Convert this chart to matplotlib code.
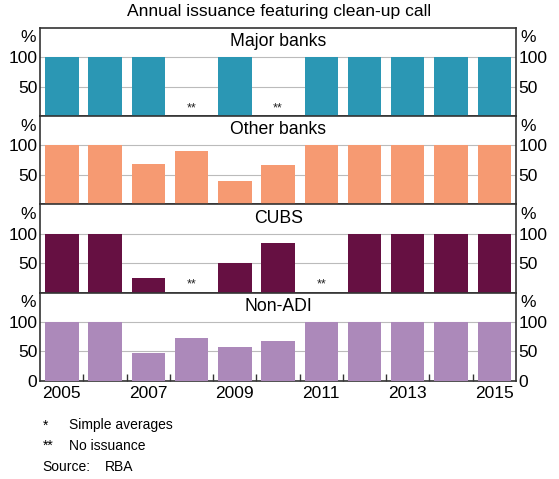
import numpy as np
import matplotlib
matplotlib.use("Agg")
import matplotlib.pyplot as plt
from matplotlib.ticker import FixedLocator

plt.rcParams['font.family'] = ['Liberation Sans', 'DejaVu Sans']

years = list(range(2005, 2016))
panels = ['Major banks', 'Other banks', 'CUBS', 'Non-ADI']
major_banks = [100, 100, 100, np.nan, 100, np.nan, 100, 100, 100, 100, 100]
other_banks = [100, 100, 69, 90, 40, 67, 100, 100, 100, 100, 100]
cubs = [100, 100, 25, np.nan, 50, 84, np.nan, 100, 100, 100, 100]
non_adi = [100, 100, 48, 72, 58, 68, 100, 100, 100, 100, 100]
series = [major_banks, other_banks, cubs, non_adi]
colors = ['#2b97b4', '#f69a72', '#661042', '#ac89ba']

fig, axes = plt.subplots(4, 1, figsize=(5.59, 4.79), dpi=100, sharex=True)
fig.subplots_adjust(left=0.072, right=0.923, top=0.942, bottom=0.205, hspace=0)

fs = 12.5
for i, ax in enumerate(axes):
    vals = np.array(series[i], dtype=float)
    ax.bar(years, vals, width=0.77, color=colors[i], zorder=3)
    # no-issuance markers
    for y, v in zip(years, vals):
        if np.isnan(v):
            ax.text(y, 3, '**', ha='center', va='bottom', fontsize=9, color='#222222')
    ax.set_xlim(2004.5, 2015.5)
    ax.set_ylim(0, 150)
    ticks = [0, 50, 100] if i == 3 else [50, 100]
    ax.set_yticks(ticks)
    ax.yaxis.grid(True, color='#bbbbbb', linewidth=0.8, zorder=0)
    ax.tick_params(axis='y', length=0, labelsize=fs, pad=2,
                   left=True, right=True, labelleft=True, labelright=True)
    ax.text(0.5, 0.94, panels[i], transform=ax.transAxes, ha='center', va='top', fontsize=12.7)
    ax.text(-0.01, 0.97, '%', transform=ax.transAxes, ha='right', va='top', fontsize=fs)
    ax.text(1.01, 0.97, '%', transform=ax.transAxes, ha='left', va='top', fontsize=fs)
    for s in ax.spines.values():
        s.set_color('#333333')
        s.set_linewidth(1.2)
    ax.tick_params(axis='x', which='both', bottom=False, labelbottom=False)

ax = axes[-1]
ax.xaxis.set_major_locator(FixedLocator(years[::2]))
ax.xaxis.set_minor_locator(FixedLocator([y + 0.5 for y in years[:-1]]))
ax.tick_params(axis='x', which='major', bottom=True, length=0, labelbottom=True, labelsize=fs, pad=4)
ax.tick_params(axis='x', which='minor', bottom=True, direction='in', length=5, width=1, color='#333333')

fig.text(0.5, 0.975, 'Annual issuance featuring clean-up call', ha='center', va='center', fontsize=12.6)

fig.text(0.076, 0.112, '*', fontsize=10, va='center')
fig.text(0.124, 0.112, 'Simple averages', fontsize=10, va='center')
fig.text(0.076, 0.069, '**', fontsize=10, va='center')
fig.text(0.124, 0.069, 'No issuance', fontsize=10, va='center')
fig.text(0.076, 0.026, 'Source:', fontsize=10, va='center')
fig.text(0.188, 0.026, 'RBA', fontsize=10, va='center')

fig.savefig('out.png', dpi=100)
